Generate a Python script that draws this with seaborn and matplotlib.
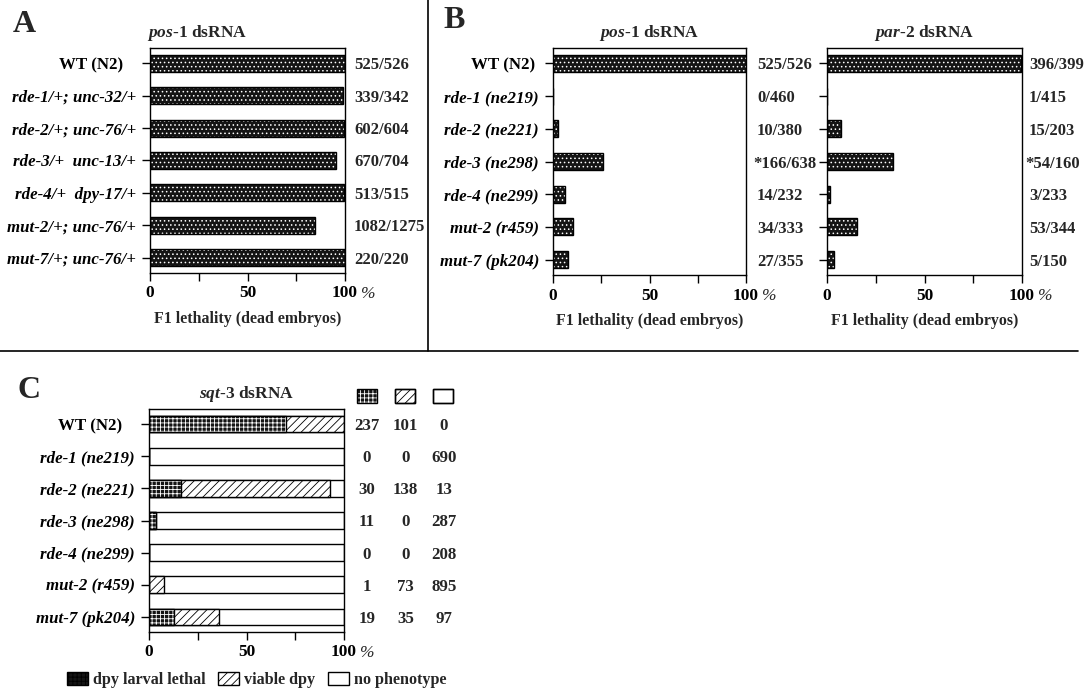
import matplotlib
matplotlib.use("Agg")
import matplotlib.pyplot as plt
import seaborn as sns
from matplotlib.patches import Patch, Rectangle
from matplotlib.lines import Line2D

# ---- data ----
strains_a = ["WT (N2)   ", "rde-1/+; unc-32/+", "rde-2/+; unc-76/+", "rde-3/+  unc-13/+",
             "rde-4/+  dpy-17/+", "mut-2/+; unc-76/+", "mut-7/+; unc-76/+"]
dead_a = [525, 339, 602, 670, 513, 1082, 220]
total_a = [526, 342, 604, 704, 515, 1275, 220]

strains_b = ["WT (N2) ", "rde-1 (ne219)", "rde-2 (ne221)", "rde-3 (ne298)",
             "rde-4 (ne299)", "mut-2 (r459)", "mut-7 (pk204)"]
pos1_dead = [525, 0, 10, 166, 14, 34, 27]
pos1_total = [526, 460, 380, 638, 232, 333, 355]
par2_dead = [396, 1, 15, 54, 3, 53, 5]
par2_total = [399, 415, 203, 160, 233, 344, 150]
starred = [False, False, False, True, False, False, False]

strains_c = ["WT (N2)   ", "rde-1 (ne219)", "rde-2 (ne221)", "rde-3 (ne298)",
             "rde-4 (ne299)", "mut-2 (r459)", "mut-7 (pk204)"]
larval_c = [237, 0, 30, 11, 0, 1, 19]
viable_c = [101, 0, 138, 0, 0, 73, 35]
nopheno_c = [0, 690, 13, 287, 208, 895, 97]

W, H = 1086, 690
DARK = "#141414"
BW = 0.52
FS = 12.0

sns.set_style("ticks")
plt.rcParams["font.family"] = ["Liberation Serif", "DejaVu Serif"]
plt.rcParams["font.weight"] = "bold"
plt.rcParams["mathtext.fontset"] = "custom"
plt.rcParams["mathtext.it"] = "Liberation Serif:italic"
plt.rcParams["mathtext.rm"] = "Liberation Serif:bold"
plt.rcParams["hatch.linewidth"] = 0.6
plt.rcParams["axes.linewidth"] = 1.0
plt.rcParams["axes.edgecolor"] = "black"
plt.rcParams["xtick.color"] = "black"
plt.rcParams["ytick.color"] = "black"

fig = plt.figure(figsize=(W / 100, H / 100), dpi=100)


def px_axes(x0, y0, x1, y1):
    return fig.add_axes([x0 / W, 1 - y1 / H, (x1 - x0) / W, (y1 - y0) / H])


def pt(px):
    return px * 0.72


def dark_bars(ax, vals, names, hatch="...."):
    n0 = len(ax.patches)
    sns.barplot(x=vals, y=names, order=names, color=DARK, saturation=1,
                width=BW, linewidth=0, ax=ax)
    for p in ax.patches[n0:]:
        p.set_hatch(hatch)
        p.set_edgecolor("white")
        p.set_linewidth(0)
    sns.barplot(x=vals, y=names, order=names, color="black", fill=False,
                width=BW, linewidth=1, ax=ax)


def style_axes(ax, names, title, title_x=0.5, xlabel=True):
    ax.set_xlim(0, 100)
    ax.set_ylim(len(names) - 0.53, -0.47)
    ax.set_xticks([0, 25, 50, 75, 100], ["0", "", "50", "", "100"])
    ax.set_yticks(range(len(names)), names)
    ax.tick_params(axis="x", length=6, width=1, pad=3, labelsize=12.5)
    ax.tick_params(axis="y", length=6, width=1, pad=4, labelsize=12.2)
    for i, t in enumerate(ax.get_yticklabels()):
        t.set_style("normal" if i == 0 else "italic")
        t.set_fontweight("bold")
    for s in ax.spines.values():
        s.set_visible(True)
        s.set_linewidth(1)
    ax.set_ylabel("")
    ax.set_xlabel("F1 lethality (dead embryos)" if xlabel else "", fontsize=11.4,
                  fontweight="bold", labelpad=7)
    ax.annotate(title, xy=(title_x, 1), xycoords="axes fraction", xytext=(0, pt(15)),
                textcoords="offset points", ha="center", va="center", fontsize=12.5,
                fontweight="bold")
    ax.annotate("%", xy=(1, 0), xycoords="axes fraction", xytext=(pt(16), -pt(19)),
                textcoords="offset points", ha="left", va="center_baseline",
                fontsize=12.5, style="italic", fontweight="normal")


def count_labels(ax, dead, total, flags, off_px):
    for i, (d, t, s) in enumerate(zip(dead, total, flags)):
        txt = ("*" if s else "") + f"{d}/{t}"
        ax.annotate(txt, xy=(1, i), xycoords=ax.get_yaxis_transform(),
                    xytext=(pt(off_px - (4 if s else 0)), 0), textcoords="offset points",
                    ha="left", va="center_baseline", fontsize=FS, fontweight="bold")


# ---- panel A ----
axA = px_axes(150, 48, 345, 273)
pct_a = [100 * d / t for d, t in zip(dead_a, total_a)]
dark_bars(axA, pct_a, strains_a)
style_axes(axA, strains_a, r"$\mathit{pos}$-$\mathit{1}$ dsRNA", title_x=0.24)
count_labels(axA, dead_a, total_a, [False] * len(dead_a), 9)

# ---- panel B ----
axB1 = px_axes(553, 48, 746, 275)
pct_pos1 = [100 * d / t for d, t in zip(pos1_dead, pos1_total)]
dark_bars(axB1, pct_pos1, strains_b)
style_axes(axB1, strains_b, r"$\mathit{pos}$-$\mathit{1}$ dsRNA")
count_labels(axB1, pos1_dead, pos1_total, starred, 11)

axB2 = px_axes(827, 48, 1022, 275)
pct_par2 = [100 * d / t for d, t in zip(par2_dead, par2_total)]
dark_bars(axB2, pct_par2, strains_b)
style_axes(axB2, strains_b, r"$\mathit{par}$-$\mathit{2}$ dsRNA")
axB2.set_yticklabels([""] * len(strains_b))
count_labels(axB2, par2_dead, par2_total, starred, 7)

# ---- panel C ----
axC = px_axes(149, 409, 344, 632)
tot_c = [a + b + c for a, b, c in zip(larval_c, viable_c, nopheno_c)]
pct_larval = [100 * a / t for a, t in zip(larval_c, tot_c)]
pct_dpy = [100 * (a + b) / t for a, b, t in zip(larval_c, viable_c, tot_c)]
sns.barplot(x=[100] * len(strains_c), y=strains_c, order=strains_c, color="white",
            saturation=1, width=BW, edgecolor="black", linewidth=1, ax=axC)
n0 = len(axC.patches)
sns.barplot(x=pct_dpy, y=strains_c, order=strains_c, color="white", saturation=1,
            width=BW, edgecolor="black", linewidth=1, ax=axC)
for p in axC.patches[n0:]:
    p.set_hatch("////")
dark_bars(axC, pct_larval, strains_c, hatch="++++")
style_axes(axC, strains_c, r"$\mathit{sqt}$-$\mathit{3}$ dsRNA", xlabel=False)
for k, col in enumerate([larval_c, viable_c, nopheno_c]):
    for i, v in enumerate(col):
        axC.annotate(str(v), xy=(1, i), xycoords=axC.get_yaxis_transform(),
                     xytext=(pt(23 + 38.5 * k), 0), textcoords="offset points",
                     ha="center", va="center_baseline", fontsize=12.2, fontweight="bold")

# header swatches above the count columns
sw_styles = [dict(facecolor=DARK, hatch="++++", edgecolor="white", linewidth=0),
             dict(facecolor="white", hatch="////", edgecolor="black", linewidth=1),
             dict(facecolor="white", edgecolor="black", linewidth=1)]
for k, st in enumerate(sw_styles):
    x0 = 357 + 38 * k
    fig.add_artist(Rectangle((x0 / W, 1 - 403 / H), 20 / W, 14 / H,
                             transform=fig.transFigure, **st))
    fig.add_artist(Rectangle((x0 / W, 1 - 403 / H), 20 / W, 14 / H,
                             transform=fig.transFigure, fill=False,
                             edgecolor="black", linewidth=1))

handles = [Patch(facecolor=DARK, hatch="++++", edgecolor="black", label="dpy larval lethal"),
           Patch(facecolor="white", hatch="////", edgecolor="black", label="viable dpy"),
           Patch(facecolor="white", edgecolor="black", label="no phenotype")]
fig.legend(handles=handles, loc="center left", bbox_to_anchor=(67 / W, 1 - 680 / H),
           ncol=3, frameon=False, fontsize=11.6, handlelength=1.3, handleheight=0.87,
           handletextpad=0.3, columnspacing=0.8, borderaxespad=0, borderpad=0)

# ---- panel letters and separators ----
for letter, x, y in [("A", 13, 32), ("B", 443, 28), ("C", 17, 398)]:
    fig.text(x / W, 1 - y / H, letter, fontsize=23, fontweight="bold",
             ha="left", va="baseline")
fig.add_artist(Line2D([428 / W, 428 / W], [1, 1 - 351 / H], color="black",
                      linewidth=1.2, transform=fig.transFigure))
fig.add_artist(Line2D([0, 1078 / W], [1 - 351 / H, 1 - 351 / H], color="black",
                      linewidth=1.2, transform=fig.transFigure))

fig.savefig("out.png", dpi=100)
